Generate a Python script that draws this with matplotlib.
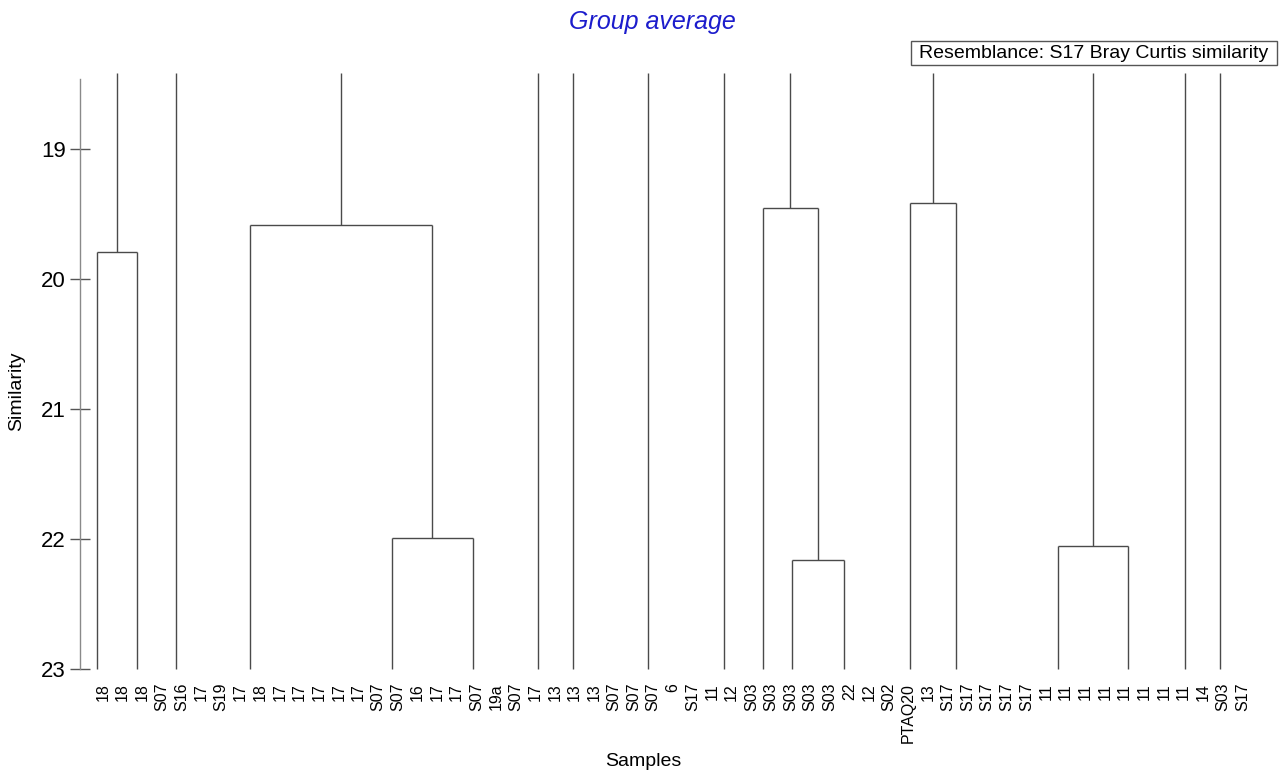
import matplotlib
matplotlib.use("Agg")
import matplotlib.pyplot as plt
from matplotlib.patches import Rectangle
from matplotlib.transforms import ScaledTranslation

# Sample labels along the bottom, in dendrogram order
leaf_labels = ["18", "18", "18", "S07", "S16", "17", "S19", "17", "18", "17",
               "17", "17", "17", "17", "S07", "S07", "16", "17", "17", "S07",
               "19a", "S07", "17", "13", "13", "13", "S07", "S07", "S07", "6",
               "S17", "11", "12", "S03", "S03", "S03", "S03", "S03", "22", "12",
               "S02", "PTAQ20", "13", "S17", "S17", "S17", "S17", "S17", "11", "11",
               "11", "11", "11", "11", "11", "11", "14", "S03", "S17"]

# Positions (in leaf units) of the cluster stems rising from below similarity 23
stem_x = [0.0, 2.05, 4.0, 7.8, 15.0, 19.15, 22.45, 24.25, 28.05, 31.9,
          33.9, 35.4, 38.0, 41.4, 43.7, 48.9, 52.5, 55.4, 57.15]

# Merges inside the shown range: (node a, node b, similarity); new nodes are appended
merges = [(0, 1, 19.79),
          (4, 5, 21.99),
          (3, 20, 19.58),
          (11, 12, 22.16),
          (10, 22, 19.45),
          (13, 14, 19.415),
          (15, 16, 22.05)]

y_ticks = [19, 20, 21, 22, 23]
y_bottom, y_top = 23.0, 18.46
stem_top = 18.415

plt.rcParams["font.family"] = ["Liberation Sans", "DejaVu Sans"]

W, H = 1285, 775
fig = plt.figure(figsize=(W / 100, H / 100), dpi=100)
ax = fig.add_axes([80 / W, 1 - 669 / H, 1180 / W, 590 / H])
ax.set_xlim(-0.866, 59.2)
ax.set_ylim(y_bottom, y_top)

line_kw = dict(color="#4a4a4a", lw=1.0, clip_on=False, solid_capstyle="butt")

# node coordinates: stems start at the bottom of the axis
node_x = list(stem_x)
node_y = [y_bottom] * len(stem_x)
children = set()
for a, b, h in merges:
    for c in (a, b):
        ax.plot([node_x[c], node_x[c]], [node_y[c], h], **line_kw)
        children.add(c)
    ax.plot([node_x[a], node_x[b]], [h, h], **line_kw)
    node_x.append((node_x[a] + node_x[b]) / 2)
    node_y.append(h)

# clusters that join above the visible range run to the top
for i in range(len(node_x)):
    if i not in children:
        ax.plot([node_x[i], node_x[i]], [node_y[i], stem_top], **line_kw)

for side in ("top", "right", "bottom"):
    ax.spines[side].set_visible(False)
ax.spines["left"].set_color("#8a8a8a")
ax.spines["left"].set_linewidth(1.0)

ax.set_yticks(y_ticks)
ax.set_yticklabels([str(t) for t in y_ticks])
ax.tick_params(axis="y", direction="inout", length=14.4, width=1.0,
               color="#555555", labelsize=16, pad=3)

ax.set_xticks(range(len(leaf_labels)))
ax.set_xticklabels(leaf_labels, rotation=90, fontsize=11.5)
ax.tick_params(axis="x", length=0, pad=10)
shift = ScaledTranslation(0.06, 0, fig.dpi_scale_trans)
for lab in ax.get_xticklabels():
    lab.set_transform(lab.get_transform() + shift)

fig.text(652 / W, 1 - 22 / H, "Group average", ha="center", va="center",
         fontsize=18, style="italic", color="#1c1ccc")
fig.text(643 / W, 1 - 762 / H, "Samples", ha="center", va="center", fontsize=14)
fig.text(17 / W, 1 - 391 / H, "Similarity", ha="center", va="center",
         fontsize=14, rotation=90)

fig.patches.append(Rectangle((911 / W, 1 - 65 / H), 366 / W, 24 / H,
                             transform=fig.transFigure, fc="white",
                             ec="#555555", lw=1.0))
fig.text(1094 / W, 1 - 53 / H, "Resemblance: S17 Bray Curtis similarity",
         ha="center", va="center", fontsize=14)

fig.savefig("out.png", dpi=100)
